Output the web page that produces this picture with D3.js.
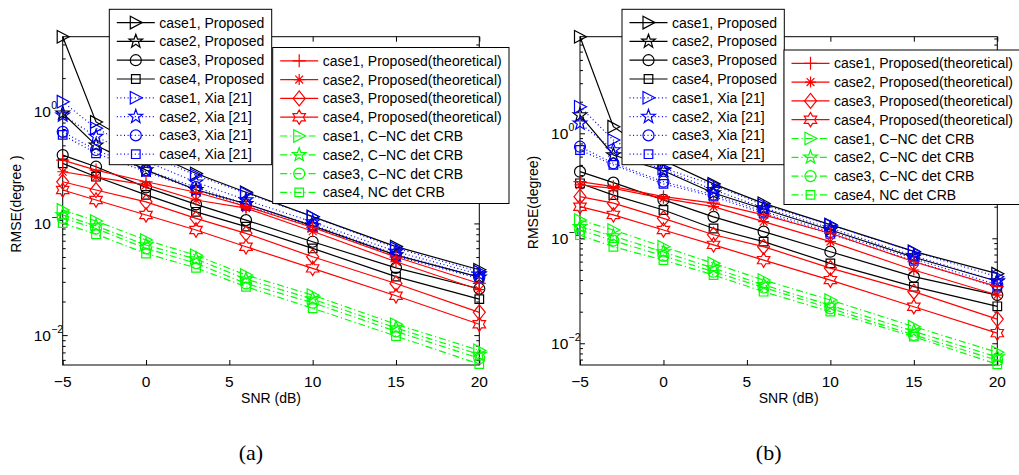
<!DOCTYPE html>
<html><head><meta charset="utf-8">
<script src="https://cdn.jsdelivr.net/npm/d3@7"></script>
<style>body{margin:0;background:#fff}svg{display:block}text{font-family:"Liberation Sans",Arial,Helvetica,sans-serif}text.cap{font-family:"Liberation Serif","DejaVu Serif",serif}</style>
</head><body><svg id="c" width="1019" height="475"></svg>
<script>
// ---------- data ----------
const snr = [-5, -3, 0, 3, 6, 10, 15, 20];
const xTicks = [-5, 0, 5, 10, 15, 20];
const yTicks = [0.01, 0.1, 1];
const yTickExp = ["\u22122", "\u22121", "0"];
const legendNames = [
  "case1, Proposed", "case2, Proposed", "case3, Proposed", "case4, Proposed",
  "case1, Xia [21]", "case2, Xia [21]", "case3, Xia [21]", "case4, Xia [21]",
  "case1, Proposed(theoretical)", "case2, Proposed(theoretical)", "case3, Proposed(theoretical)", "case4, Proposed(theoretical)",
  "case1, C\u2212NC det CRB", "case2, C\u2212NC det CRB", "case3, C\u2212NC det CRB", "case4, NC det CRB"
];
// panel (a)
const a_prop1 = [4.69, 0.81, 0.45, 0.28, 0.19, 0.115, 0.062, 0.0385];
const a_prop2 = [0.97, 0.50, 0.30, 0.20, 0.15, 0.095, 0.052, 0.033];
const a_prop3 = [0.409, 0.322, 0.21, 0.148, 0.107, 0.0685, 0.040, 0.026];
const a_prop4 = [0.345, 0.262, 0.18, 0.127, 0.0935, 0.0597, 0.0334, 0.021];
const a_xia1 = [1.23, 0.71, 0.42, 0.27, 0.186, 0.115, 0.060, 0.037];
const a_xia2 = [0.93, 0.60, 0.36, 0.234, 0.162, 0.103, 0.056, 0.035];
const a_xia3 = [0.66, 0.454, 0.30, 0.211, 0.148, 0.097, 0.053, 0.033];
const a_xia4 = [0.62, 0.424, 0.29, 0.20, 0.143, 0.093, 0.051, 0.032];
const a_theo1 = [0.369, 0.30, 0.236, 0.19, 0.142, 0.092, 0.050, 0.029];
const a_theo2 = [0.29, 0.26, 0.221, 0.162, 0.137, 0.085, 0.0454, 0.0255];
const a_theo3 = [0.236, 0.199, 0.156, 0.111, 0.0815, 0.0503, 0.029, 0.016];
const a_theo4 = [0.199, 0.162, 0.119, 0.0873, 0.0618, 0.0396, 0.0225, 0.0125];
const a_crb1 = [0.132, 0.105, 0.071, 0.0518, 0.0345, 0.0228, 0.0125, 0.0073];
const a_crb2 = [0.119, 0.095, 0.0641, 0.048, 0.0317, 0.021, 0.0116, 0.0067];
const a_crb3 = [0.112, 0.090, 0.0597, 0.044, 0.029, 0.0195, 0.0108, 0.0062];
const a_crb4 = [0.1007, 0.080, 0.0538, 0.040, 0.0271, 0.0174, 0.0098, 0.0055];
// panel (b)
const b_prop1 = [8.3, 1.156, 0.55, 0.33, 0.215, 0.135, 0.075, 0.046];
const b_prop2 = [1.49, 0.622, 0.44, 0.27, 0.19, 0.12, 0.066, 0.039];
const b_prop3 = [0.431, 0.339, 0.232, 0.160, 0.1156, 0.0745, 0.0431, 0.0288];
const b_prop4 = [0.334, 0.258, 0.186, 0.124, 0.093, 0.0577, 0.0346, 0.0225];
const b_xia1 = [1.79, 0.863, 0.466, 0.322, 0.207, 0.134, 0.0745, 0.043];
const b_xia2 = [1.245, 0.694, 0.447, 0.29, 0.195, 0.125, 0.068, 0.039];
const b_xia3 = [0.745, 0.518, 0.346, 0.26, 0.18, 0.115, 0.064, 0.036];
const b_xia4 = [0.693, 0.50, 0.33, 0.25, 0.172, 0.11, 0.061, 0.034];
const b_theo1 = [0.346, 0.31, 0.249, 0.216, 0.167, 0.1117, 0.0598, 0.0346];
const b_theo2 = [0.322, 0.299, 0.24, 0.20, 0.144, 0.093, 0.0499, 0.0288];
const b_theo3 = [0.249, 0.216, 0.155, 0.108, 0.0832, 0.052, 0.031, 0.017];
const b_theo4 = [0.20, 0.167, 0.12, 0.0866, 0.062, 0.040, 0.0223, 0.0125];
const b_crb1 = [0.149, 0.12, 0.083, 0.0577, 0.040, 0.0258, 0.0144, 0.0082];
const b_crb2 = [0.129, 0.105, 0.074, 0.052, 0.036, 0.023, 0.013, 0.0074];
const b_crb3 = [0.12, 0.095, 0.068, 0.048, 0.034, 0.0215, 0.012, 0.0069];
const b_crb4 = [0.107, 0.083, 0.062, 0.0447, 0.031, 0.020, 0.01156, 0.0063];

// ---------- styles ----------
const BLACK = "#000000", BLUE = "#0000ff", RED = "#ff0000", GREEN = "#00ff00";
const styles = [
  {c: BLACK, dash: null, m: "triR"}, {c: BLACK, dash: null, m: "pent"}, {c: BLACK, dash: null, m: "circ"}, {c: BLACK, dash: null, m: "sq"},
  {c: BLUE, dash: "1,2.6", m: "triR"}, {c: BLUE, dash: "1,2.6", m: "pent"}, {c: BLUE, dash: "1,2.6", m: "circ"}, {c: BLUE, dash: "1,2.6", m: "sq"},
  {c: RED, dash: null, m: "plus"}, {c: RED, dash: null, m: "ast"}, {c: RED, dash: null, m: "diam"}, {c: RED, dash: null, m: "hex"},
  {c: GREEN, dash: "7,3,1.2,3", m: "triR"}, {c: GREEN, dash: "7,3,1.2,3", m: "pent"}, {c: GREEN, dash: "7,3,1.2,3", m: "circ"}, {c: GREEN, dash: "7,3,1.2,3", m: "sq"}
];
function star(n, ro, ri) {
  const p = [];
  for (let i = 0; i < 2 * n; i++) {
    const r = i % 2 ? ri : ro, a = -Math.PI / 2 + i * Math.PI / n;
    p.push([r * Math.cos(a), r * Math.sin(a)]);
  }
  return "M" + p.map(q => q[0].toFixed(2) + "," + q[1].toFixed(2)).join("L") + "Z";
}
const markerPaths = {
  triR: "M-5.5,-6.3L6.5,0L-5.5,6.3Z",
  pent: star(5, 7.2, 2.9),
  circ: "M5.5,0A5.5,5.5 0 1,1 -5.5,0A5.5,5.5 0 1,1 5.5,0Z",
  sq: "M-4.3,-4.3H4.3V4.3H-4.3Z",
  plus: "M-6.5,0H6.5M0,-6.5V6.5",
  ast: "M-5.5,0H5.5M0,-5.5V5.5M-3.9,-3.9L3.9,3.9M-3.9,3.9L3.9,-3.9",
  diam: "M0,-7.5L6,0L0,7.5L-6,0Z",
  hex: star(6, 7.2, 4.2)
};

const panels = [
  {x0: 62.7, x1: 479.3, y0: 36.7, y1: 365, yMin: 0.0054, yMax: 4.695, ylabel: "RMSE(degree )", ylabX: 16, ylabY: 204, caption: "(a)",
   series: [a_prop1, a_prop2, a_prop3, a_prop4, a_xia1, a_xia2, a_xia3, a_xia4, a_theo1, a_theo2, a_theo3, a_theo4, a_crb1, a_crb2, a_crb3, a_crb4],
   leg: [{x: 109.3, y: 9.3, w: 162.4, h: 155.4, from: 0}, {x: 272.7, y: 47.5, w: 236.3, h: 156, from: 8}]},
  {x0: 580, x1: 997.3, y0: 36.7, y1: 365, yMin: 0.00621, yMax: 8.32, ylabel: "RMSE(degree)", ylabX: 533, ylabY: 202.5, caption: "(b)",
   series: [b_prop1, b_prop2, b_prop3, b_prop4, b_xia1, b_xia2, b_xia3, b_xia4, b_theo1, b_theo2, b_theo3, b_theo4, b_crb1, b_crb2, b_crb3, b_crb4],
   leg: [{x: 622, y: 9.3, w: 162.3, h: 155.4, from: 0}, {x: 784, y: 50, w: 236.3, h: 154.5, from: 8}]}
];

const svg = d3.select("#c");
svg.append("rect").attr("width", 1019).attr("height", 475).attr("fill", "#fff");

panels.forEach(P => {
  const g = svg.append("g");
  const xs = d3.scaleLinear().domain([-5, 20]).range([P.x0, P.x1]);
  const ys = d3.scaleLog().domain([P.yMin, P.yMax]).range([P.y1, P.y0]);

  g.append("rect").attr("x", P.x0).attr("y", P.y0).attr("width", P.x1 - P.x0).attr("height", P.y1 - P.y0)
    .attr("fill", "none").attr("stroke", "#000").attr("stroke-width", 1);

  const xAxB = d3.axisBottom(xs).tickValues(xTicks).tickSizeInner(-5).tickSizeOuter(0).tickFormat("");
  const xAxT = d3.axisTop(xs).tickValues(xTicks).tickSizeInner(-5).tickSizeOuter(0).tickFormat("");
  g.append("g").attr("transform", `translate(0,${P.y1})`).call(xAxB).call(s => s.select(".domain").remove());
  g.append("g").attr("transform", `translate(0,${P.y0})`).call(xAxT).call(s => s.select(".domain").remove());
  xTicks.forEach(t => {
    g.append("text").attr("x", xs(t)).attr("y", 386.5).attr("text-anchor", "middle").attr("font-size", 15.5)
      .text(t < 0 ? "\u2212" + Math.abs(t) : String(t));
  });

  const minor = [];
  for (let e = -3; e <= 1; e++) for (let k = 2; k <= 9; k++) {
    const v = k * Math.pow(10, e);
    if (v > P.yMin && v < P.yMax) minor.push(v);
  }
  [[d3.axisLeft, P.x0], [d3.axisRight, P.x1]].forEach(([fn, xp]) => {
    g.append("g").attr("transform", `translate(${xp},0)`)
      .call(fn(ys).tickValues(yTicks).tickSizeInner(-5).tickSizeOuter(0).tickFormat(""))
      .call(s => s.select(".domain").remove());
    g.append("g").attr("transform", `translate(${xp},0)`)
      .call(fn(ys).tickValues(minor).tickSizeInner(-3).tickSizeOuter(0).tickFormat(""))
      .call(s => s.select(".domain").remove());
  });
  g.selectAll(".tick line").attr("stroke", "#000");
  yTicks.forEach((t, i) => {
    g.append("text").attr("x", P.x0 - 11.7).attr("y", ys(t) + 5.5).attr("text-anchor", "end").attr("font-size", 15.5).text("10");
    g.append("text").attr("x", P.x0 - 11.5).attr("y", ys(t) - 2.5).attr("font-size", 10.5).text(yTickExp[i]);
  });

  g.append("text").attr("x", (P.x0 + P.x1) / 2).attr("y", 403).attr("text-anchor", "middle").attr("font-size", 14).text("SNR (dB)");
  g.append("text").attr("transform", `translate(${P.ylabX},${P.ylabY}) rotate(-90)`).attr("text-anchor", "middle")
    .attr("dominant-baseline", "central").attr("font-size", 14).text(P.ylabel);
  g.append("text").attr("class", "cap").attr("x", (P.x0 + P.x1) / 2 - 20).attr("y", 460).attr("text-anchor", "middle")
    .attr("font-size", 22).text(P.caption);

  const line = d3.line().x(d => xs(d[0])).y(d => ys(d[1]));
  P.series.forEach((vals, i) => {
    const st = styles[i];
    const pts = snr.map((x, j) => [x, vals[j]]);
    const sg = g.append("g");
    sg.append("path").attr("d", line(pts)).attr("fill", "none").attr("stroke", st.c).attr("stroke-width", 1.2)
      .attr("stroke-dasharray", st.dash);
    sg.selectAll("path.m").data(pts).join("path").attr("class", "m")
      .attr("transform", d => `translate(${xs(d[0])},${ys(d[1])})`)
      .attr("d", markerPaths[st.m]).attr("fill", "none").attr("stroke", st.c).attr("stroke-width", 1.2);
  });

  P.leg.forEach(L => {
    const lg = g.append("g");
    lg.append("rect").attr("x", L.x).attr("y", L.y).attr("width", L.w).attr("height", L.h)
      .attr("fill", "#fff").attr("stroke", "#000").attr("stroke-width", 1);
    for (let k = 0; k < 8; k++) {
      const i = L.from + k, st = styles[i];
      const ry = L.y + 13.3 + k * 18.8;
      lg.append("line").attr("x1", L.x + 7.5).attr("x2", L.x + 45.5).attr("y1", ry).attr("y2", ry)
        .attr("stroke", st.c).attr("stroke-width", 1.2).attr("stroke-dasharray", st.dash);
      lg.append("path").attr("transform", `translate(${L.x + 26.5},${ry})`).attr("d", markerPaths[st.m])
        .attr("fill", "none").attr("stroke", st.c).attr("stroke-width", 1.2);
      lg.append("text").attr("x", L.x + 50).attr("y", ry + 5).attr("font-size", 14).attr("fill", "#000").text(legendNames[i]);
    }
  });
});
</script></body></html>
